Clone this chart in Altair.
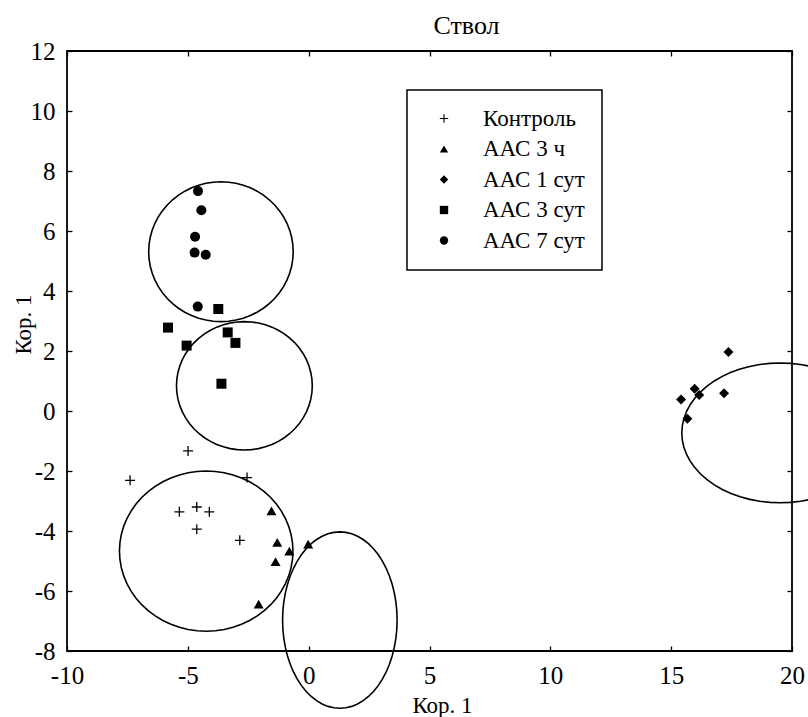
import altair as alt
import pandas as pd

# ---------------- data ----------------
TITLE = "Ствол"
GROUPS = ["Контроль", "ААС 3 ч", "ААС 1 сут", "ААС 3 сут", "ААС 7 сут"]

control_x = [-4.99, -7.39, -2.55, -5.35, -4.63, -4.11, -4.63, -2.85]
control_y = [-1.33, -2.31, -2.22, -3.36, -3.20, -3.36, -3.94, -4.31]
aac3h_x = [-1.54, -1.30, -0.80, -1.37, -0.02, -2.07]
aac3h_y = [-3.33, -4.38, -4.67, -5.02, -4.44, -6.44]
aac1d_x = [17.37, 15.97, 16.16, 15.41, 17.19, 15.67]
aac1d_y = [1.97, 0.74, 0.53, 0.38, 0.59, -0.26]
aac3d_x = [-3.74, -5.82, -3.35, -3.03, -5.05, -3.61]
aac3d_y = [3.40, 2.78, 2.62, 2.27, 2.18, 0.91]
aac7d_x = [-4.58, -4.44, -4.70, -4.72, -4.26, -4.59]
aac7d_y = [7.33, 6.69, 5.81, 5.28, 5.21, 3.48]

# ellipses drawn around the groups (centre, semi-axes in data units)
ell_cx = [-3.63, -2.66, -4.24, 1.29, 19.51]
ell_cy = [5.31, 0.84, -4.67, -6.97, -0.73]
ell_rx = [2.99, 2.81, 3.59, 2.37, 4.07]
ell_ry = [2.33, 2.14, 2.67, 2.94, 2.33]

x_ticks = [-10, -5, 0, 5, 10, 15, 20]
y_ticks = [-8, -6, -4, -2, 0, 2, 4, 6, 8, 10, 12]

# ---------------- tables ----------------
rows = []
for g, xs_, ys_ in zip(GROUPS, [control_x, aac3h_x, aac1d_x, aac3d_x, aac7d_x],
                       [control_y, aac3h_y, aac1d_y, aac3d_y, aac7d_y]):
    for a, b in zip(xs_, ys_):
        rows.append({"group": g, "x": a, "y": b})
df = pd.DataFrame(rows)

ell_df = pd.DataFrame({"id": list(range(len(ell_cx))), "cx": ell_cx, "cy": ell_cy,
                       "rx": ell_rx, "ry": ell_ry})

# ---------------- style ----------------
FONT = "Liberation Serif"
W, H = 725, 600
# thin plus sign drawn as a filled outline
PLUS = ("M-1,-0.13L-0.13,-0.13L-0.13,-1L0.13,-1L0.13,-0.13L1,-0.13L1,0.13"
        "L0.13,0.13L0.13,1L-0.13,1L-0.13,0.13L-1,0.13Z")
shape_range = [PLUS, "triangle-up", "diamond", "square", "circle"]

xsc = alt.Scale(domain=[-10, 20], nice=False, zero=False)
ysc = alt.Scale(domain=[-8, 12], nice=False, zero=False)

tick_common = dict(labels=False, domain=False, grid=False, ticks=True, tickSize=5,
                   tickColor="black", tickWidth=1.3)

x_main = alt.Axis(orient="bottom", values=x_ticks, ticks=False, domain=False, grid=False,
                  labelExpr="'' + datum.value", labelFont=FONT, labelFontSize=25,
                  labelColor="black", labelBaseline="alphabetic", labelPadding=32,
                  labelFlush=False, title="Кор. 1", titleFont=FONT, titleFontSize=23,
                  titleFontWeight="normal", titleColor="black", titleX=375, titleY=61,
                  titleBaseline="alphabetic", titleAlign="center")
y_main = alt.Axis(orient="left", values=y_ticks, ticks=False, domain=False, grid=False,
                  labelExpr="'' + datum.value", labelFont=FONT, labelFontSize=25,
                  labelColor="black", labelBaseline="middle", labelPadding=12,
                  labelFlush=False, title="Кор. 1", titleFont=FONT, titleFontSize=23,
                  titleFontWeight="normal", titleColor="black", titleX=-44, titleY=273,
                  titleBaseline="middle", titleAlign="center", titleAngle=-90)

legend = alt.Legend(title=None, orient="none", legendX=340, legendY=39,
                    direction="vertical", padding=17, strokeColor="black",
                    fillColor="white", symbolSize=70, symbolOffset=8.5, labelOffset=27.5,
                    labelFont=FONT, labelFontSize=23, labelColor="black", rowPadding=6.5,
                    symbolFillColor="black", symbolStrokeColor="black",
                    symbolStrokeWidth=0, labelLimit=300)

points = alt.Chart(df).mark_point(
    filled=True, color="black", fill="black", opacity=1, size=100
).encode(
    x=alt.X("x:Q", scale=xsc, axis=x_main),
    y=alt.Y("y:Q", scale=ysc, axis=y_main),
    shape=alt.Shape("group:N", scale=alt.Scale(domain=GROUPS, range=shape_range),
                    legend=legend),
)

ellipses = alt.Chart(ell_df).transform_calculate(
    t="sequence(0, 366, 6)"
).transform_flatten(["t"]).transform_calculate(
    ex="datum.cx + datum.rx * cos(datum.t * PI / 180)",
    ey="datum.cy + datum.ry * sin(datum.t * PI / 180)",
).mark_line(clip=False, color="black", strokeWidth=1.6).encode(
    x=alt.X("ex:Q", scale=xsc,
            axis=alt.Axis(orient="top", offset=-H, values=x_ticks, title=None,
                          **tick_common)),
    y=alt.Y("ey:Q", scale=ysc,
            axis=alt.Axis(orient="right", offset=-W, values=y_ticks, title=None,
                          **tick_common)),
    detail="id:N",
    order="t:Q",
)

# axis along the top edge: inward ticks and the chart heading
ghost = alt.Chart(ell_df).mark_point(opacity=0).encode(
    x=alt.X("cx:Q", scale=xsc,
            axis=alt.Axis(orient="bottom", offset=-H, values=x_ticks, title=TITLE,
                          titleFont=FONT, titleFontSize=26, titleFontWeight="normal",
                          titleColor="black", titleX=399, titleY=-18,
                          titleBaseline="alphabetic", titleAlign="center",
                          **tick_common)),
    y=alt.Y("cy:Q", scale=ysc,
            axis=alt.Axis(orient="left", offset=-W, values=y_ticks, title=None,
                          **tick_common)),
)

chart = alt.layer(ellipses, ghost, points).resolve_axis(
    x="independent", y="independent"
).properties(
    width=W, height=H,
    autosize=alt.AutoSizeParams(type="none"),
    padding={"left": 67, "top": 51, "right": 16, "bottom": 66},
).configure(font=FONT).configure_axis(
    labelFont=FONT, titleFont=FONT
).configure_view(stroke="black", strokeWidth=1.8).configure_legend(strokeWidth=1.5)

chart.save("out.html", embed_options={"renderer": "svg", "actions": False})
